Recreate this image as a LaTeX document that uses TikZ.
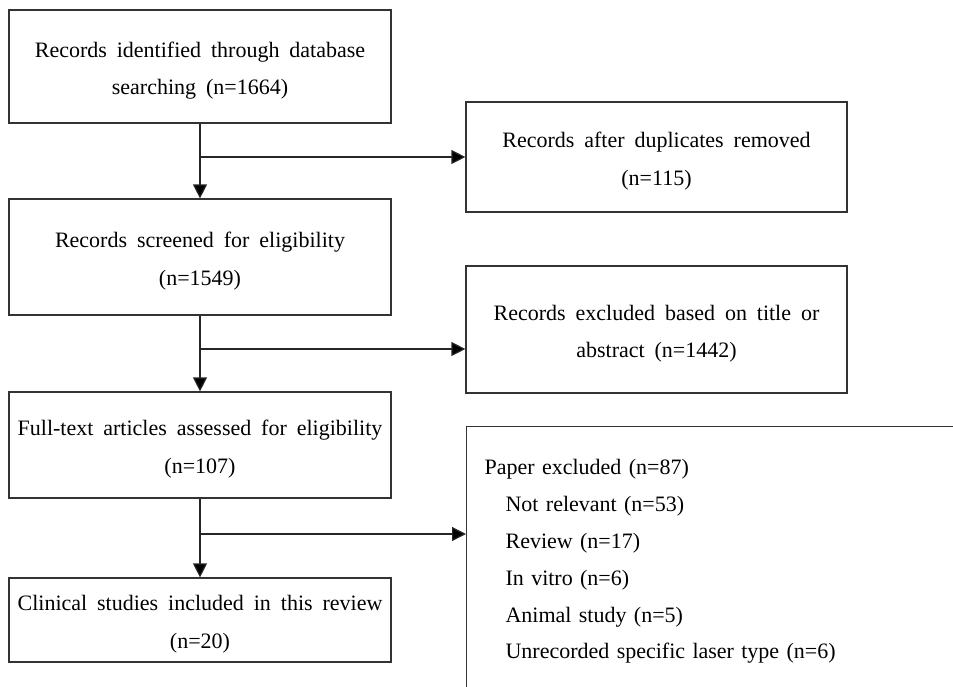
\documentclass[tikz,border=0pt]{standalone}
\usepackage{fontspec}
\setmainfont[WordSpace=1.8]{Liberation Serif}
\usetikzlibrary{arrows.meta}

% taller first line, so the text sits a little lower in its box
\newcommand{\topline}{\rule{0pt}{24pt}}

\begin{document}
\begin{tikzpicture}[x=1pt, y=-1pt,
    box/.style={draw=black!80, line width=1.2pt, inner sep=0pt, align=center,
        font=\fontsize{22}{37.5}\selectfont},
    flow/.style={draw=black!85, line width=1.2pt,
        -{Triangle[length=14pt, width=14pt, fill=black]}}]

    \useasboundingbox (0,0) rectangle (953,686);
    \clip (0,0) rectangle (953,686);

    %% Left column: main flow
    \node[box, minimum width=382pt, minimum height=113pt] (ident) at (200,66.5)
        {\topline Records identified through database\\searching (n=1664)};
    \node[box, minimum width=382pt, minimum height=116pt] (screen) at (200,257)
        {\topline Records screened for eligibility\\(n=1549)};
    \node[box, minimum width=382pt, minimum height=106pt] (full) at (200,445)
        {\topline Full-text articles assessed for eligibility\\(n=107)};
    \node[box, minimum width=382pt, minimum height=84pt] (incl) at (200,620)
        {\topline Clinical studies included in this review\\(n=20)};

    %% Right column: excluded records
    \node[box, minimum width=381pt, minimum height=110pt] (dup) at (656.5,157)
        {\topline Records after duplicates removed\\(n=115)};
    \node[box, minimum width=381pt, minimum height=127pt] (excl) at (656.5,329.5)
        {\topline Records excluded based on title or\\abstract (n=1442)};
    % last box runs off the picture
    \node[box, anchor=north west, align=left, text width=484pt,
        font=\fontsize{22}{36.8}\selectfont,
        inner xsep=18pt, inner ysep=33pt] (paper) at (466,426)
        {Paper excluded (n=87)\\
         \hspace*{21pt}Not relevant (n=53)\\
         \hspace*{21pt}Review (n=17)\\
         \hspace*{21pt}In vitro (n=6)\\
         \hspace*{21pt}Animal study (n=5)\\
         \hspace*{21pt}Unrecorded specific laser type (n=6)};

    % Branch points
    \coordinate (j1) at (200,157);
    \coordinate (j2) at (200,349);
    \coordinate (j3) at (200,534);

    % Arrows
    \draw[flow] (ident.south) -- (screen.north);
    \draw[flow] (j1) -- (dup.west);
    \draw[flow] (screen.south) -- (full.north);
    \draw[flow] (j2) -- (j2 -| excl.west);
    \draw[flow] (full.south) -- (incl.north);
    \draw[flow] (j3) -- (j3 -| paper.west);

\end{tikzpicture}
\end{document}
